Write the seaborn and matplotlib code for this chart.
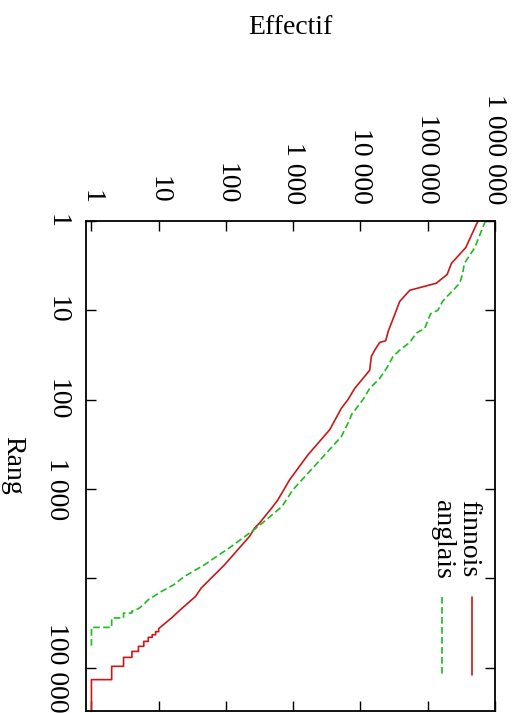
import matplotlib
matplotlib.use("Agg")
import matplotlib.pyplot as plt
import seaborn as sns
from matplotlib.ticker import NullLocator

# ---------------- data ----------------
fi_rank = [1, 2, 3, 4, 5, 6, 8, 14, 17, 22, 23, 28, 33, 47, 58, 75, 100, 125, 218, 415,
           789, 1321, 1570, 2400, 2735, 3390, 7030, 12800, 15900, 22400, 27700, 31700,
           36400, 39400, 39400, 42600, 42600, 45600, 45600, 50600, 50600, 57500, 57500,
           65500, 65500, 76400, 76400, 96200, 96200, 135500, 135500, 300000]
fi_freq = [561000, 367000, 225000, 194000, 134000, 54000, 38300, 28800, 26000, 23700,
           19300, 16300, 14500, 13700, 10900, 8200, 6530, 5200, 3480, 1656,
           884, 592, 499, 316, 267, 224, 95.5, 42.9, 35.3, 21, 15.5, 12.5,
           10, 10, 9, 9, 8, 8, 7, 7, 6, 6, 5, 5, 4, 4, 3, 3, 2, 2, 1, 1]

en_rank = [1, 2, 3, 4, 5, 6, 7, 8, 10, 11, 16, 18, 23, 28, 33, 45, 58, 75, 100, 148,
           169, 259, 397, 637, 1020, 1570, 2210, 2860, 4400, 7030,
           9490, 11750, 14000, 17300, 19500, 21800, 23200, 24400, 24400, 27700,
           27700, 35300, 35300, 57500]
en_freq = [722000, 500000, 351000, 327000, 299000, 238000, 195000, 166000, 142000, 110000,
           90200, 68000, 54000, 38300, 30500, 24300, 19300, 13700, 10900, 7330,
           6900, 5200, 3110, 1750, 990, 680, 398, 260, 120, 48,
           24.2, 16.8, 11, 7, 6, 5, 4, 4, 3, 3,
           2, 2, 1, 1]

freq_ticks = [1, 10, 100, 1000, 10000, 100000, 1000000]
freq_labels = ["1", "10", "100", "1 000", "10 000", "100 000", "1 000 000"]
rank_ticks = [1, 10, 100, 1000, 10000, 100000]
rank_labels = ["1", "10", "100", "1 000", "", "100 000"]

series_names = ["finnois", "anglais"]
RED = "#c81818"
GREEN = "#1dbb1d"

# ---------------- plot ----------------
sns.set_theme(style="white")
plt.rcParams["font.family"] = ["Liberation Serif", "DejaVu Serif"]

W, H = 517, 713
fig = plt.figure(figsize=(W / 100, H / 100), dpi=100)
L, R, T, B = 86, 495, 220.7, 710.5
ax = fig.add_axes([L / W, (H - B) / H, (R - L) / W, (B - T) / H])

sns.lineplot(x=fi_freq, y=fi_rank, sort=False, estimator=None, color=RED,
             linewidth=1.2, ax=ax)
sns.lineplot(x=en_freq, y=en_rank, sort=False, estimator=None, color=GREEN,
             linewidth=1.2, linestyle=(0, (4, 2)), ax=ax)

ax.set_xscale("log")
ax.set_yscale("log")
ax.set_xlim(0.83, 1e6)
ax.set_ylim(3e5, 1)

ax.set_xticks(freq_ticks)
ax.set_xticklabels(freq_labels)
ax.set_yticks(rank_ticks)
ax.set_yticklabels(rank_labels)
ax.xaxis.set_minor_locator(NullLocator())
ax.yaxis.set_minor_locator(NullLocator())

ax.tick_params(axis="both", which="major", direction="in", length=7, width=1,
               top=True, right=True, bottom=True, left=True,
               labeltop=True, labelbottom=False, labelleft=True, labelright=False,
               labelsize=20, pad=12, colors="black")
ax.tick_params(axis="x", labelrotation=-90)
ax.tick_params(axis="y", labelrotation=-90)
for lbl in ax.get_yticklabels():
    lbl.set_va("center")
for lbl in ax.get_xticklabels():
    lbl.set_ha("center")
    lbl.set_va("bottom")

for s in ax.spines.values():
    s.set_visible(True)
    s.set_color("black")
    s.set_linewidth(1.3)
ax.grid(False)

ax.set_xlabel("Effectif", fontsize=20, color="black")
ax.xaxis.set_label_position("top")
ax.xaxis.set_label_coords(0.5, (B - 28) / (B - T))
ax.xaxis.label.set_va("center")

ax.set_ylabel("Rang", fontsize=20, rotation=-90, color="black")
ax.yaxis.set_label_coords((13 - L) / (R - L), 0.5)
ax.yaxis.label.set_va("center")
ax.yaxis.label.set_ha("center")

# legend (rotated, like the reference)
def axx(px):
    return (px - L) / (R - L)

def axy(py):
    return (B - py) / (B - T)

ax.plot([axx(471.7), axx(471.7)], [axy(597), axy(675)], transform=ax.transAxes,
        color=RED, linewidth=1.2)
ax.plot([axx(442.3), axx(442.3)], [axy(597), axy(675)], transform=ax.transAxes,
        color=GREEN, linewidth=1.2, linestyle=(0, (4, 2)))
ax.text(axx(469), axy(500), series_names[0], transform=ax.transAxes, rotation=-90,
        ha="center", va="top", fontsize=20, color="black")
ax.text(axx(443), axy(500), series_names[1], transform=ax.transAxes, rotation=-90,
        ha="center", va="top", fontsize=20, color="black")

fig.savefig("out.png", dpi=100)
